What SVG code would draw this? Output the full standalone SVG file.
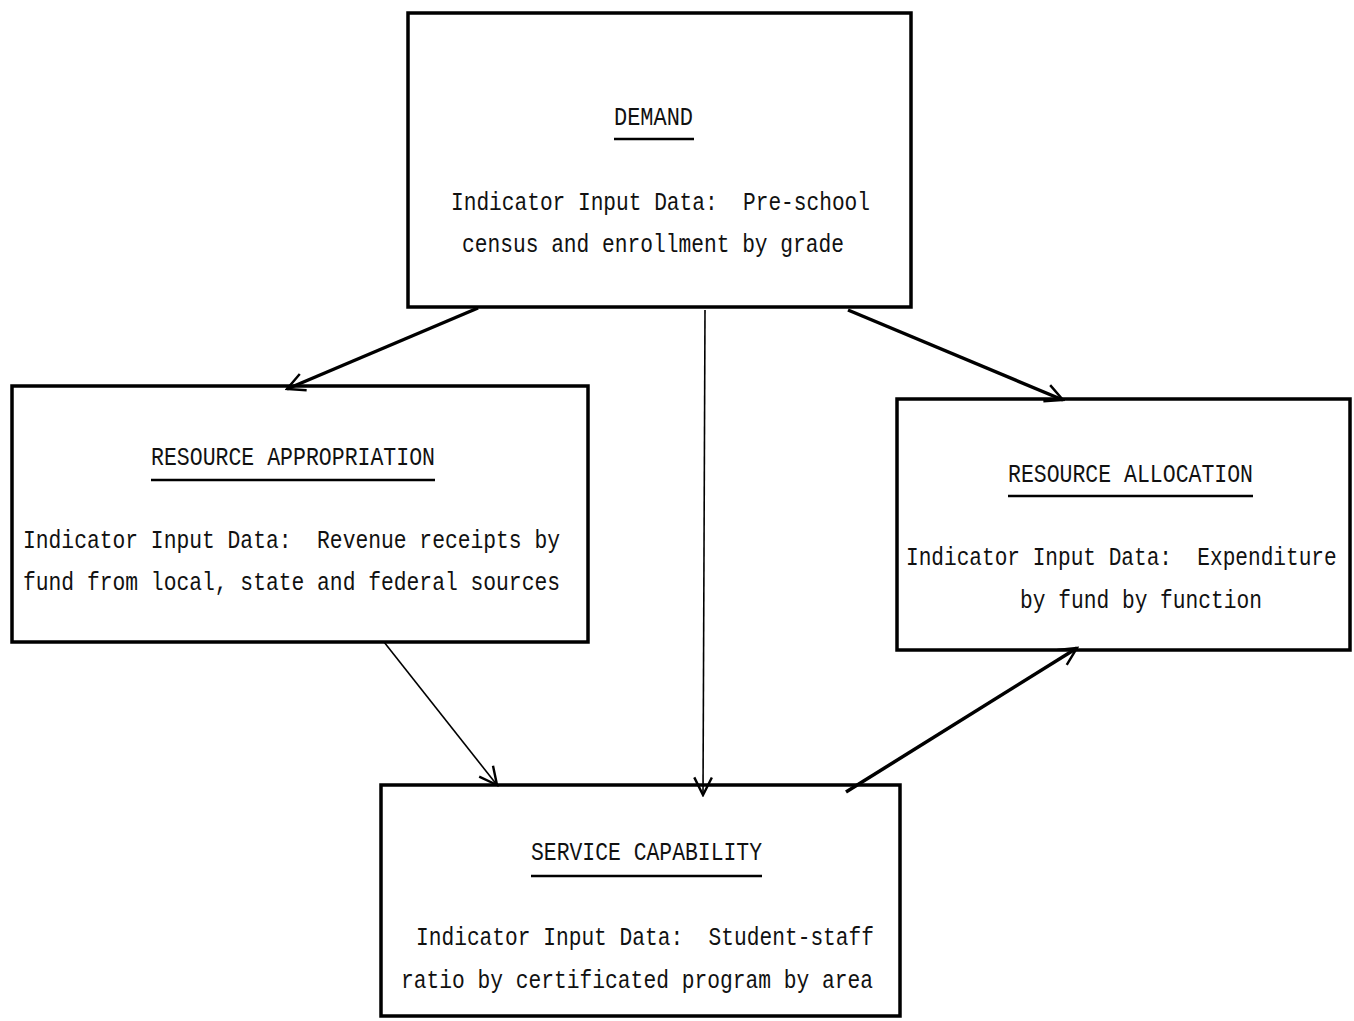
<svg xmlns="http://www.w3.org/2000/svg" width="1354" height="1021" viewBox="0 0 1354 1021">
<defs>
<style>
.box{fill:none;stroke:#000;stroke-width:3.5}
.t{font-family:"Liberation Mono","DejaVu Sans Mono",monospace;font-size:25px;fill:#111;white-space:pre}
.ul{stroke:#000;stroke-width:2.5}
.c{fill:none;stroke:#000;stroke-width:3.5}
.thin{fill:none;stroke:#000;stroke-width:1.6}
</style>
<marker id="ah" viewBox="0 0 20 20" refX="18" refY="10" markerWidth="22" markerHeight="22" markerUnits="userSpaceOnUse" orient="auto">
<path d="M2 2 L18 10 L2 18" fill="none" stroke="#000" stroke-width="2.2"/>
</marker>
</defs>
<rect width="1354" height="1021" fill="#fff"/>
<g id="demand">
<rect class="box" x="408" y="13" width="503" height="294"/>
<text class="t" x="614" y="125" textLength="79" lengthAdjust="spacingAndGlyphs">DEMAND</text>
<line class="ul" x1="614" y1="139" x2="694" y2="139"/>
<text class="t" x="451" y="210" textLength="419" lengthAdjust="spacingAndGlyphs" xml:space="preserve">Indicator Input Data:  Pre-school</text>
<text class="t" x="462" y="252" textLength="382" lengthAdjust="spacingAndGlyphs">census and enrollment by grade</text>
</g>
<g id="resource-appropriation">
<rect class="box" x="12" y="386" width="576" height="256"/>
<text class="t" x="151" y="465" textLength="284" lengthAdjust="spacingAndGlyphs">RESOURCE APPROPRIATION</text>
<line class="ul" x1="151" y1="480" x2="435" y2="480"/>
<text class="t" x="23" y="548" textLength="537" lengthAdjust="spacingAndGlyphs" xml:space="preserve">Indicator Input Data:  Revenue receipts by</text>
<text class="t" x="23" y="590" textLength="537" lengthAdjust="spacingAndGlyphs">fund from local, state and federal sources</text>
</g>
<g id="resource-allocation">
<rect class="box" x="897" y="399" width="453" height="251"/>
<text class="t" x="1008" y="482" textLength="245" lengthAdjust="spacingAndGlyphs">RESOURCE ALLOCATION</text>
<line class="ul" x1="1008" y1="496" x2="1253" y2="496"/>
<text class="t" transform="translate(906,565) scale(0.845,1)" x="0" y="0" xml:space="preserve">Indicator Input Data:  Expenditure</text>
<text class="t" x="1020" y="608" textLength="242" lengthAdjust="spacingAndGlyphs">by fund by function</text>
</g>
<g id="service-capability">
<rect class="box" x="381" y="785" width="519" height="231"/>
<text class="t" x="531" y="860" textLength="231" lengthAdjust="spacingAndGlyphs">SERVICE CAPABILITY</text>
<line class="ul" x1="531" y1="876" x2="762" y2="876"/>
<text class="t" x="416" y="945" textLength="458" lengthAdjust="spacingAndGlyphs" xml:space="preserve">Indicator Input Data:  Student-staff</text>
<text class="t" x="401" y="988" textLength="472" lengthAdjust="spacingAndGlyphs">ratio by certificated program by area</text>
</g>
<g id="connectors">
<line class="c" x1="478" y1="308" x2="287" y2="389" marker-end="url(#ah)"/>
<line class="c" x1="848" y1="310" x2="1063" y2="400" marker-end="url(#ah)"/>
<line class="thin" x1="705" y1="310" x2="703" y2="795" marker-end="url(#ah)"/>
<line class="thin" x1="384" y1="642" x2="497" y2="785" marker-end="url(#ah)"/>
<line class="c" x1="846" y1="792" x2="1077" y2="648" marker-end="url(#ah)"/>
</g>
</svg>
